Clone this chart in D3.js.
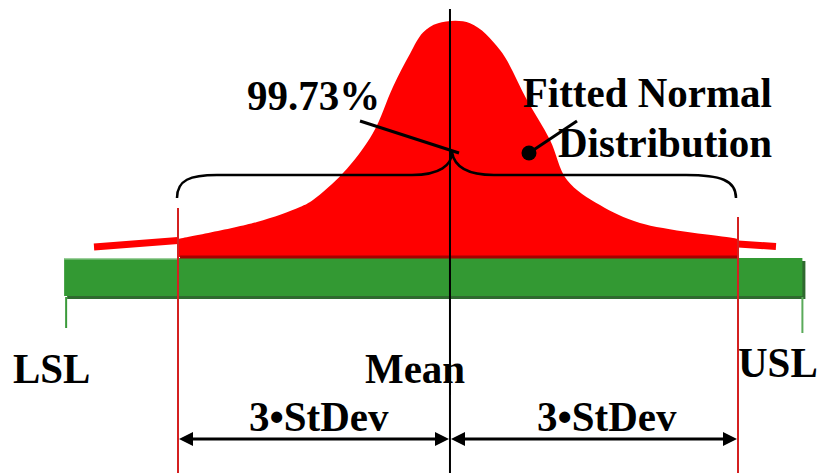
<!DOCTYPE html>
<html>
<head>
<meta charset="utf-8">
<script src="https://cdn.jsdelivr.net/npm/d3@7/dist/d3.min.js"></script>
<style>
  html, body { margin: 0; padding: 0; background: #fff; }
  svg { display: block; }
  text { font-family: "Liberation Serif", "Times New Roman", serif; font-weight: bold; fill: #000; }
</style>
</head>
<body>
<svg id="chart" width="821" height="473"></svg>
<script>
// Process position in standard-deviation units (0 = nominal centre)
const lowerSpec = -4.22;     // LSL
const upperSpec = 3.69;      // USL
const meanValue = -0.086;    // process mean
const lowerSigma = -3;       // mean - 3 StDev
const upperSigma = 3;        // mean + 3 StDev

// Fitted distribution outline (relative height, 1 = peak), inside ±3 StDev
const curveX = [-3.0, -2.154, -1.693, -1.554, -1.232, -0.911, -0.696, -0.514, -0.375, -0.214,
                0.129, 0.45, 0.739, 0.986, 1.168, 1.521, 1.95, 2.946, 3.0];
const curveY = [0.077, 0.149, 0.213, 0.243, 0.357, 0.528, 0.725, 0.865, 0.955, 0.995,
                0.995, 0.881, 0.668, 0.498, 0.328, 0.221, 0.145, 0.081, 0.077];

// Distribution tails beyond ±3 StDev
const leftTailX = [-3.9, -3.0];
const leftTailY = [0.043, 0.07];
const rightTailX = [3.0, 3.407];
const rightTailY = [0.055, 0.045];

// Labels
const coverageLabel = "99.73%";
const fitLabel = ["Fitted Normal", "Distribution"];
const specLabels = ["LSL", "USL"];
const meanLabel = "Mean";
const spreadLabel = "3\u2022StDev";

const svg = d3.select("#chart");
const x = d3.scaleLinear().domain([-3, 3]).range([178, 738]);
const y = d3.scaleLinear().domain([0, 1]).range([257, 22]);

const red = "#ff0000";
const limitRed = "#d42020";
const green = "#339933";

// Specification bar (with drop shadow)
svg.append("rect")
  .attr("x", x(lowerSpec) + 3).attr("y", y(0) + 4)
  .attr("width", x(upperSpec) - x(lowerSpec)).attr("height", 38)
  .attr("fill", "#2f6a2f");
svg.append("rect")
  .attr("x", x(lowerSpec)).attr("y", y(0) + 1)
  .attr("width", x(upperSpec) - x(lowerSpec)).attr("height", 38)
  .attr("fill", green);
svg.append("rect")
  .attr("x", x(lowerSpec)).attr("y", y(0) + 1)
  .attr("width", x(lowerSigma) - x(lowerSpec)).attr("height", 1.5)
  .attr("fill", "#9ccf9c");

// Spec limit ticks
svg.append("line")
  .attr("x1", x(lowerSpec) + 2).attr("x2", x(lowerSpec) + 2)
  .attr("y1", y(0) + 40).attr("y2", y(0) + 71)
  .attr("stroke", "#3a9a3a").attr("stroke-width", 2);
svg.append("line")
  .attr("x1", x(upperSpec)).attr("x2", x(upperSpec))
  .attr("y1", y(0) + 40).attr("y2", y(0) + 76)
  .attr("stroke", "#5aaa5a").attr("stroke-width", 2);

// Fitted distribution fill
const pts = curveX.map((v, i) => [v, curveY[i]]);
const area = d3.area()
  .x(d => x(d[0]))
  .y0(y(0))
  .y1(d => y(d[1]))
  .curve(d3.curveCatmullRom.alpha(0.5));
svg.append("path").datum(pts).attr("d", area).attr("fill", red);

// Dark base edge under the fill
svg.append("line")
  .attr("x1", x(lowerSigma) + 2).attr("x2", x(upperSigma))
  .attr("y1", y(0)).attr("y2", y(0))
  .attr("stroke", "#a80000").attr("stroke-width", 3);

// Tails
const tailLine = d3.line().x(d => x(d[0])).y(d => y(d[1]));
svg.append("path").datum(leftTailX.map((v, i) => [v, leftTailY[i]]))
  .attr("d", tailLine).attr("stroke", red).attr("stroke-width", 7).attr("fill", "none");
svg.append("path").datum(rightTailX.map((v, i) => [v, rightTailY[i]]))
  .attr("d", tailLine).attr("stroke", red).attr("stroke-width", 7).attr("fill", "none");

// ±3 StDev limit lines
svg.append("line")
  .attr("x1", x(lowerSigma)).attr("x2", x(lowerSigma))
  .attr("y1", 208).attr("y2", 473)
  .attr("stroke", limitRed).attr("stroke-width", 2);
svg.append("line")
  .attr("x1", x(upperSigma)).attr("x2", x(upperSigma))
  .attr("y1", 217).attr("y2", 473)
  .attr("stroke", limitRed).attr("stroke-width", 2);

// Curly brace spanning ±3 StDev
const xl = x(lowerSigma) - 1, xr = x(upperSigma) - 2, xm = x(meanValue) + 2;
const by = 175, tipY = 152, endY = 198;
const brace = d3.path();
brace.moveTo(xl, endY);
brace.bezierCurveTo(xl, by + 5, xl + 13, by, xl + 40, by);
brace.lineTo(xm - 40, by);
brace.bezierCurveTo(xm - 12, by, xm, by - 10, xm, tipY);
brace.bezierCurveTo(xm + 2, by - 10, xm + 12, by, xm + 42, by);
brace.lineTo(xr - 50, by);
brace.bezierCurveTo(xr - 16, by, xr, by + 5, xr, endY);
svg.append("path").attr("d", brace.toString())
  .attr("fill", "none").attr("stroke", "#000").attr("stroke-width", 2.5);

// Mean line
svg.append("line")
  .attr("x1", x(meanValue)).attr("x2", x(meanValue))
  .attr("y1", 9).attr("y2", 473)
  .attr("stroke", "#000").attr("stroke-width", 2);

// Leader lines
svg.append("line")
  .attr("x1", 360).attr("y1", 121).attr("x2", 459).attr("y2", 153)
  .attr("stroke", "#000").attr("stroke-width", 3);
svg.append("line")
  .attr("x1", 529).attr("y1", 153).attr("x2", 577).attr("y2", 121)
  .attr("stroke", "#000").attr("stroke-width", 3);
svg.append("circle").attr("cx", 529).attr("cy", 153).attr("r", 7.5).attr("fill", "#000");

// StDev dimension arrows
const arrowY = 439;
function dimArrow(a, b) {
  svg.append("line")
    .attr("x1", a + 10).attr("x2", b - 10)
    .attr("y1", arrowY).attr("y2", arrowY)
    .attr("stroke", "#000").attr("stroke-width", 3);
  svg.append("path")
    .attr("d", `M${a},${arrowY} L${a + 14},${arrowY - 7} L${a + 14},${arrowY + 7} Z`)
    .attr("fill", "#000");
  svg.append("path")
    .attr("d", `M${b},${arrowY} L${b - 14},${arrowY - 7} L${b - 14},${arrowY + 7} Z`)
    .attr("fill", "#000");
}
dimArrow(x(lowerSigma) + 1, x(meanValue) - 1);
dimArrow(x(meanValue) + 1, x(upperSigma) - 1);

// Text: slightly condensed bold serif
const fs = 43, sx = 0.953;
function label(str, tx, ty, anchor) {
  svg.append("text")
    .attr("transform", `translate(${tx},${ty}) scale(${sx},1)`)
    .attr("font-size", fs)
    .attr("text-anchor", anchor || "start")
    .text(str);
}
label(coverageLabel, 247, 110);
label(fitLabel[0], 772, 107, "end");
label(fitLabel[1], 772, 157, "end");
label(specLabels[0], 13, 383);
label(specLabels[1], 738, 377);
label(meanLabel, 365, 383);
label(spreadLabel, 249, 431);
label(spreadLabel, 537, 431);

// Mean line redrawn over the Mean label
svg.append("line")
  .attr("x1", x(meanValue)).attr("x2", x(meanValue))
  .attr("y1", 340).attr("y2", 395)
  .attr("stroke", "#000").attr("stroke-width", 2);
</script>
</body>
</html>
